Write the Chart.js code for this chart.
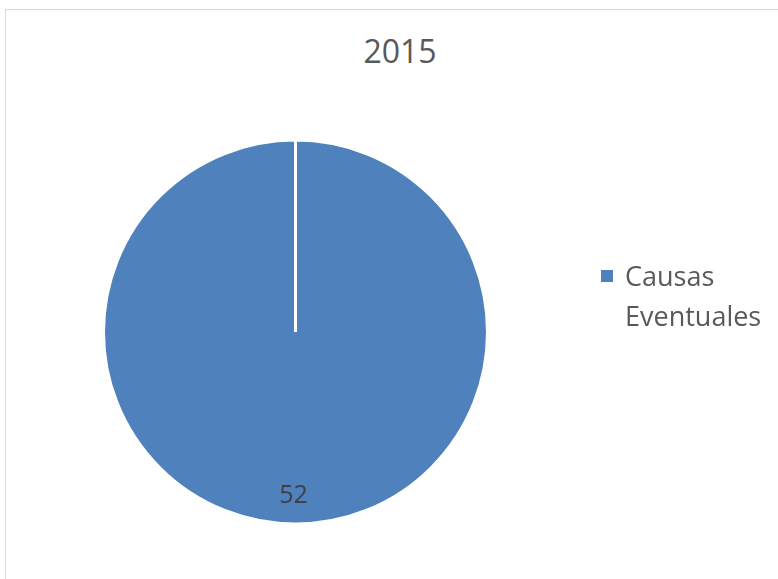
<!DOCTYPE html>
<html lang="es">
<head>
    <meta charset="UTF-8">
    <title>2015</title>
    <script src="https://cdn.jsdelivr.net/npm/chart.js"></script>
    <style>
        body {
            margin: 0;
            background: white;
            font-family: "Open Sans", sans-serif;
            overflow: hidden;
        }
        .frame {
            position: absolute;
            left: 5px;
            top: 9px;
            width: 820px;
            height: 620px;
            border: 1.5px solid #d9d9d9;
        }
        #chartTitle {
            position: absolute;
            left: 300px;
            width: 200px;
            top: 29px;
            text-align: center;
            font-size: 32px;
            color: #595959;
        }
        #legend {
            position: absolute;
            left: 601px;
            top: 256px;
            width: 170px;
            color: #595959;
            font-size: 27px;
            line-height: 40px;
        }
        #legend .item {
            position: relative;
            padding-left: 24px;
        }
        #legend .box {
            position: absolute;
            left: 0;
            top: 14px;
            width: 12px;
            height: 12px;
        }
        .wrap {
            position: absolute;
            left: 0;
            top: 0;
            width: 778px;
            height: 579px;
        }
    </style>
</head>
<body>
    <div class="frame"></div>
    <div id="chartTitle"></div>
    <div class="wrap"><canvas id="pieChart" width="778" height="579"></canvas></div>
    <div id="legend"></div>

    <script>
        const chartTitle = "2015";
        const labels = ["Causas Eventuales"];
        const values = [52];
        const colors = ["#4f81bd"];

        document.getElementById("chartTitle").textContent = chartTitle;

        // value label placed near the outer edge, at the middle angle of each slice
        const valueLabels = {
            id: 'valueLabels',
            afterDatasetsDraw(chart) {
                const ctx = chart.ctx;
                const meta = chart.getDatasetMeta(0);
                ctx.save();
                ctx.font = '25px "Open Sans", sans-serif';
                ctx.fillStyle = '#404040';
                ctx.textAlign = 'center';
                ctx.textBaseline = 'middle';
                meta.data.forEach(function(arc, i) {
                    const mid = (arc.startAngle + arc.endAngle) / 2;
                    const r = arc.outerRadius * 0.855;
                    ctx.fillText(String(values[i]), arc.x + Math.cos(mid) * r - 2, arc.y + Math.sin(mid) * r);
                });
                ctx.restore();
            }
        };

        const ctx = document.getElementById('pieChart').getContext('2d');
        const pieChart = new Chart(ctx, {
            type: 'pie',
            data: {
                labels: labels,
                datasets: [{
                    data: values,
                    backgroundColor: colors,
                    borderColor: '#ffffff',
                    borderWidth: 3,
                    radius: 192
                }]
            },
            options: {
                responsive: false,
                animation: false,
                layout: {
                    padding: { left: 100, right: 287, top: 135, bottom: 50 }
                },
                plugins: {
                    legend: { display: false },
                    title: { display: false },
                    tooltip: { enabled: false }
                }
            },
            plugins: [valueLabels]
        });

        // html legend so the long label can wrap onto two lines
        const legend = document.getElementById("legend");
        labels.forEach(function(label, i) {
            const item = document.createElement("div");
            item.className = "item";
            const box = document.createElement("span");
            box.className = "box";
            box.style.background = colors[i];
            item.appendChild(box);
            item.appendChild(document.createTextNode(label));
            legend.appendChild(item);
        });
    </script>
</body>
</html>
